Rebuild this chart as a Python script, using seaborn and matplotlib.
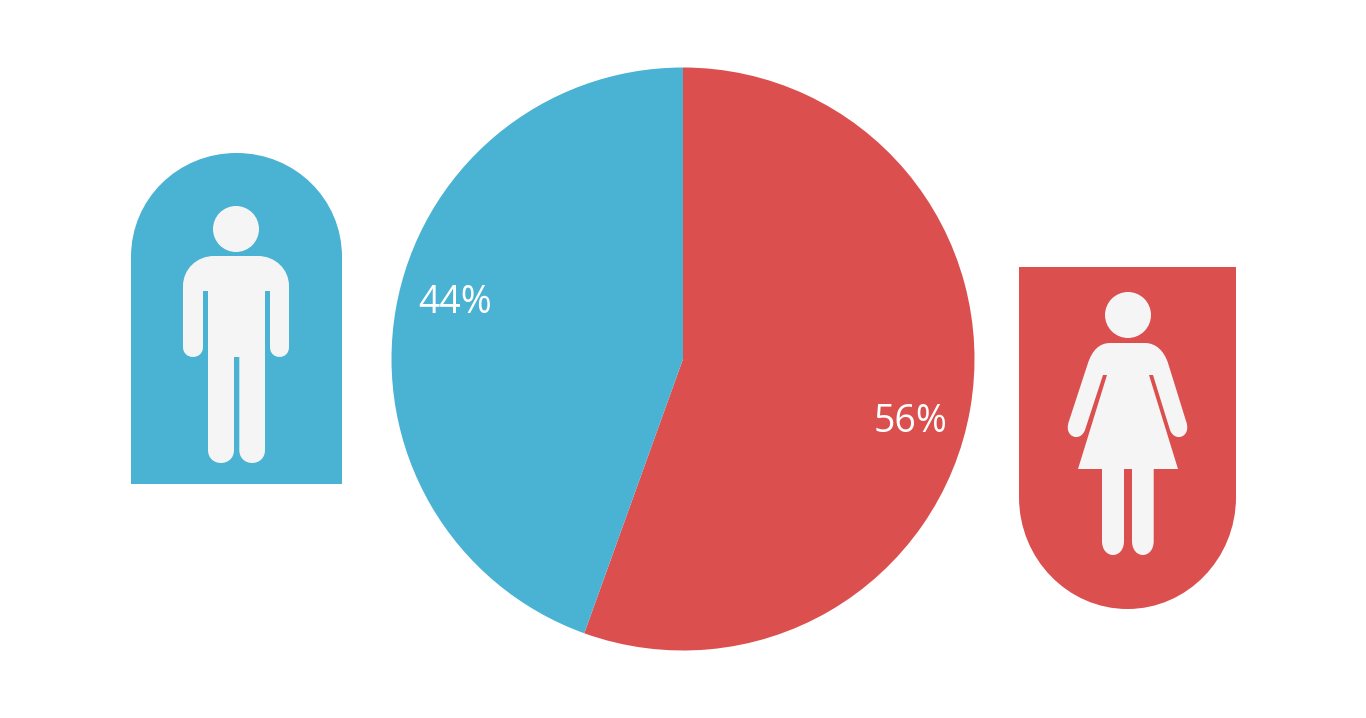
import matplotlib
matplotlib.use("Agg")
import matplotlib.pyplot as plt
import seaborn as sns
from matplotlib.patches import PathPatch, Circle
from matplotlib.path import Path

# slices clockwise from 12 o'clock
groups = ["Female", "Male"]
shares = [55.5, 44.5]
share_labels = ["56%", "44%"]

RED = "#DB4F4E"
BLUE = "#4AB2D3"
ICON = "#F5F5F5"
W, H = 1366, 718

sns.set_theme(style="white")
plt.rcParams["font.family"] = ["Open Sans", "DejaVu Sans"]
palette = sns.color_palette([RED, BLUE])


def flip(pts):
    # icon outlines were measured from the top left of the image
    return [(x, H - y) for x, y in pts]


def add_shape(ax, segs, color):
    verts, codes = [], []
    for code, pts in segs:
        verts += flip(pts)
        codes += [code] * len(pts)
    verts.append(verts[0])
    codes.append(Path.CLOSEPOLY)
    ax.add_patch(PathPatch(Path(verts, codes), fc=color, ec="none"))


M, L, C = Path.MOVETO, Path.LINETO, Path.CURVE4


def cap(x0, x1, y, r):
    # round end of a limb, going downwards
    return (C, [(x0, y + r * 4 / 3), (x1, y + r * 4 / 3), (x1, y)])


fig = plt.figure(figsize=(W / 100, H / 100), dpi=100)
ax = fig.add_axes([0, 0, 1, 1])

ax.pie(shares, colors=palette, startangle=90, counterclock=False,
       center=(683, H - 359), radius=291.5, wedgeprops={"linewidth": 0, "edgecolor": "none"})
ax.set_xlim(0, W)
ax.set_ylim(0, H)
ax.axis("off")

ax.text(911, H - 422, share_labels[0], color="white", fontsize=27, ha="center", va="center")
ax.text(455, H - 303, share_labels[1], color="white", fontsize=27, ha="center", va="center")

# male badge
add_shape(ax, [
    (M, [(131, 484)]),
    (L, [(131, 257)]),
    (C, [(131, 199), (178, 153), (236.5, 153)]),
    (C, [(295, 153), (342, 199), (342, 257)]),
    (L, [(342, 484)]),
], BLUE)
ax.add_patch(Circle((236, H - 229), 23, fc=ICON, ec="none"))
add_shape(ax, [
    (M, [(183, 286)]),
    (C, [(183, 269), (197, 256), (214, 256)]),
    (L, [(258, 256)]),
    (C, [(275, 256), (289, 269), (289, 286)]),
    (L, [(289, 347)]),
    cap(289, 270, 347, 10),
    (L, [(270, 291), (265, 291), (265, 450)]),
    cap(265, 239.3, 450, 13),
    (L, [(239.3, 357), (234, 357), (234, 450)]),
    cap(234, 208, 450, 13),
    (L, [(208, 291), (203, 291), (203, 347)]),
    cap(203, 183, 347, 10),
], ICON)

# female badge
add_shape(ax, [
    (M, [(1019, 267)]),
    (L, [(1236, 267), (1236, 497)]),
    (C, [(1236, 559), (1187, 609), (1127.5, 609)]),
    (C, [(1068, 609), (1019, 559), (1019, 497)]),
], RED)
ax.add_patch(Circle((1128, H - 315), 23, fc=ICON, ec="none"))
add_shape(ax, [
    (M, [(1110, 343)]),
    (L, [(1145, 343)]),
    (C, [(1156, 343), (1164, 351), (1168, 363)]),
    (L, [(1186, 421)]),
    (C, [(1192, 437), (1175, 443), (1170, 430)]),
    (L, [(1153, 375), (1149, 375), (1178, 469), (1153.7, 469), (1153.7, 541)]),
    cap(1153.7, 1132, 541, 14),
    (L, [(1132, 469), (1124, 469), (1124, 541)]),
    cap(1124, 1102, 541, 14),
    (L, [(1102, 469), (1078, 469), (1107, 375), (1103, 375), (1085, 430)]),
    (C, [(1080, 443), (1063, 437), (1069, 421)]),
    (L, [(1088, 363)]),
    (C, [(1092, 351), (1099, 343), (1110, 343)]),
], ICON)

fig.savefig("out.png", dpi=100, facecolor="white")
plt.close(fig)
